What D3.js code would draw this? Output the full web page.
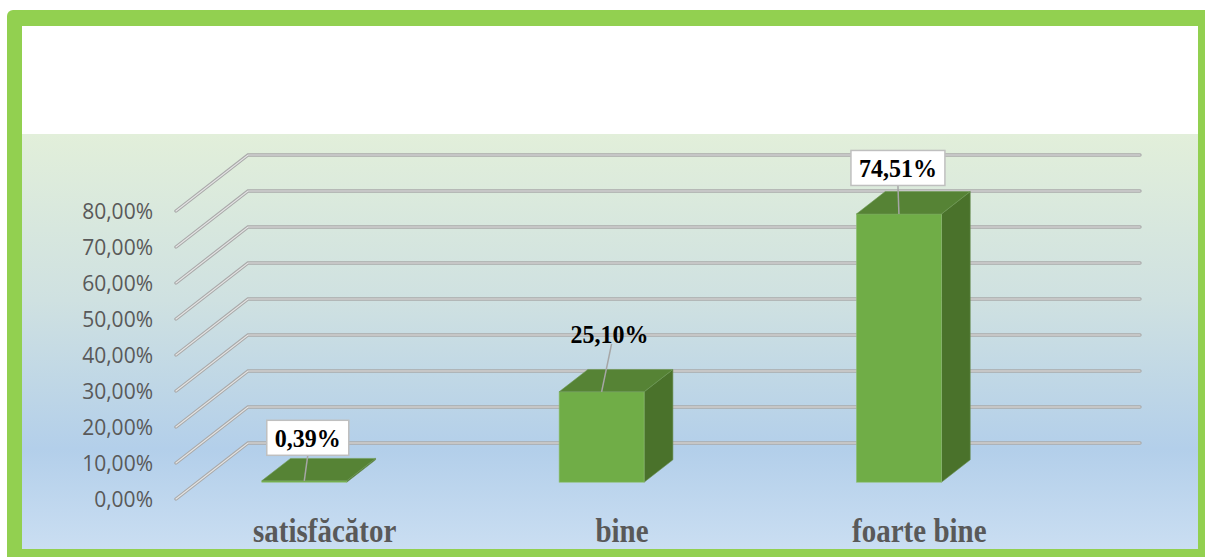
<!DOCTYPE html>
<html>
<head>
<meta charset="utf-8">
<script src="https://cdn.jsdelivr.net/npm/d3@7"></script>
<style>
  body { margin: 0; background: #ffffff; }
  svg { display: block; }
</style>
</head>
<body>
<script>
// chart data
var categories = ["satisfăcător", "bine", "foarte bine"];
var values = [0.39, 25.10, 74.51];
var valueLabels = ["0,39%", "25,10%", "74,51%"];
var yTicks = [0, 10, 20, 30, 40, 50, 60, 70, 80];
var yTickLabels = ["0,00%", "10,00%", "20,00%", "30,00%", "40,00%", "50,00%", "60,00%", "70,00%", "80,00%"];

// layout for the data labels (offset from bar top, boxed or not)
var labelOffsets = [[3.5, -43], [8, -58], [-1, -46]];
var labelBoxed = [true, false, true];

var w = 1205, h = 557;

// 3d floor: depth vector from front to back wall
var depthX = 72, depthY = -56;
var barDepth0 = 0.3, barDepth = 0.4;
var barWidth = 85, barShift = -42;

var svg = d3.select("body").append("svg")
  .attr("width", w)
  .attr("height", h);

var defs = svg.append("defs");
var grad = defs.append("linearGradient")
  .attr("id", "bg")
  .attr("x1", 0).attr("y1", 0).attr("x2", 0).attr("y2", 1);
grad.append("stop").attr("offset", "0").attr("stop-color", "#e2efda");
grad.append("stop").attr("offset", "0.4").attr("stop-color", "#cfe1e1");
grad.append("stop").attr("offset", "0.76").attr("stop-color", "#b3cfea");
grad.append("stop").attr("offset", "1").attr("stop-color", "#cadef2");

// frame
svg.append("rect")
  .attr("x", 7).attr("y", 10)
  .attr("width", 1220).attr("height", 570)
  .attr("rx", 6)
  .attr("fill", "#92d050");
svg.append("rect")
  .attr("x", 22).attr("y", 26)
  .attr("width", 1176).attr("height", 523)
  .attr("fill", "#ffffff");
svg.append("rect")
  .attr("x", 22).attr("y", 134)
  .attr("width", 1176).attr("height", 415)
  .attr("fill", "url(#bg)");

// scales (front edge of the floor)
var y = d3.scaleLinear().domain([0, 80]).range([499, 211]);
var x = d3.scaleBand().domain(categories).range([176, 1068]);

var backRight = 1140;

// gridlines: diagonal on the side wall, then along the back wall
var gridLine = function(d) {
  return "M" + x.range()[0] + "," + y(d) +
    "L" + (x.range()[0] + depthX) + "," + (y(d) + depthY) +
    "L" + backRight + "," + (y(d) + depthY);
};
var grid = svg.append("g");
grid.selectAll("path.outer")
  .data(yTicks)
  .enter().append("path")
  .attr("class", "outer")
  .attr("d", gridLine)
  .attr("fill", "none")
  .attr("stroke", "#a9a9a9")
  .attr("stroke-width", 3.4)
  .attr("stroke-linecap", "round");
grid.selectAll("path.inner")
  .data(yTicks)
  .enter().append("path")
  .attr("class", "inner")
  .attr("d", gridLine)
  .attr("fill", "none")
  .attr("stroke", "#e4e4e4")
  .attr("stroke-width", 1.2)
  .attr("stroke-linecap", "round");

// y tick labels
svg.append("g").selectAll("text")
  .data(yTicks)
  .enter().append("text")
  .text(function(d, i) { return yTickLabels[i]; })
  .attr("x", 153)
  .attr("y", function(d) { return y(d); })
  .attr("dy", "0.36em")
  .attr("text-anchor", "end")
  .attr("font-family", "'Open Sans', sans-serif")
  .attr("font-size", "21px")
  .attr("fill", "#595959");

// bars
function barGeom(d, i) {
  var xl = x(categories[i]) + x.bandwidth() / 2 + barShift - barWidth / 2 + barDepth0 * depthX;
  var yb = y(0) + barDepth0 * depthY;
  var yt = y(d) + barDepth0 * depthY;
  return { xl: xl, xr: xl + barWidth, yb: yb, yt: yt,
    dx: barDepth * depthX, dy: barDepth * depthY };
}

var bars = svg.append("g").selectAll("g")
  .data(values)
  .enter().append("g");

bars.append("path")
  .attr("d", function(d, i) {
    var g = barGeom(d, i);
    return "M" + g.xr + "," + g.yb + "L" + (g.xr + g.dx) + "," + (g.yb + g.dy) +
      "L" + (g.xr + g.dx) + "," + (g.yt + g.dy) + "L" + g.xr + "," + g.yt + "Z";
  })
  .attr("fill", "#4a722b")
  .attr("stroke", "#6a8f52")
  .attr("stroke-width", 0.6);

bars.append("rect")
  .attr("x", function(d, i) { return barGeom(d, i).xl; })
  .attr("y", function(d, i) { return barGeom(d, i).yt; })
  .attr("width", barWidth)
  .attr("height", function(d, i) { var g = barGeom(d, i); return g.yb - g.yt; })
  .attr("fill", "#70ad47")
  .attr("stroke", "#8fbf73")
  .attr("stroke-width", 0.6);

bars.append("path")
  .attr("d", function(d, i) {
    var g = barGeom(d, i);
    return "M" + g.xl + "," + g.yt + "L" + (g.xl + g.dx) + "," + (g.yt + g.dy) +
      "L" + (g.xr + g.dx) + "," + (g.yt + g.dy) + "L" + g.xr + "," + g.yt + "Z";
  })
  .attr("fill", "#568335")
  .attr("stroke", "#6e9a55")
  .attr("stroke-width", 0.6);

// data labels
var labels = svg.append("g").selectAll("g")
  .data(values)
  .enter().append("g");

labels.each(function(d, i) {
  var g = barGeom(d, i);
  var cx = (g.xl + g.xr) / 2;
  var lx = cx + labelOffsets[i][0];
  var ly = g.yt + labelOffsets[i][1];
  var sel = d3.select(this);

  var box = sel.append("rect");
  var txt = sel.append("text")
    .text(valueLabels[i])
    .attr("transform", "translate(" + lx + "," + ly + ") scale(1,1.07)")
    .attr("dy", "0.35em")
    .attr("text-anchor", "middle")
    .attr("font-family", "'Liberation Serif', 'Times New Roman', serif")
    .attr("font-weight", "bold")
    .attr("font-size", "24px")
    .attr("fill", "#000000");

  var tw = txt.node().getComputedTextLength();
  var bw = tw + 16, bh = 35;
  var bottom = ly + bh / 2;
  if (labelBoxed[i]) {
    box.attr("x", lx - bw / 2)
      .attr("y", ly - bh / 2)
      .attr("width", bw)
      .attr("height", bh)
      .attr("fill", "#ffffff")
      .attr("stroke", "#bfbfbf")
      .attr("stroke-width", 1.5);
  } else {
    box.remove();
    bottom = ly + 10;
  }

  sel.insert("line", ":first-child")
    .attr("x1", lx + (labelBoxed[i] ? 0 : 2))
    .attr("y1", bottom)
    .attr("x2", cx)
    .attr("y2", g.yt)
    .attr("stroke", "#a6a6a6")
    .attr("stroke-width", 1.5);
});

// category labels
svg.append("g").selectAll("text")
  .data(categories)
  .enter().append("text")
  .text(function(d) { return d; })
  .attr("transform", function(d) {
    return "translate(" + (x(d) + x.bandwidth() / 2) + ",542) scale(1,1.18)";
  })
  .attr("text-anchor", "middle")
  .attr("font-family", "'Liberation Serif', 'Times New Roman', serif")
  .attr("font-weight", "bold")
  .attr("font-size", "29px")
  .attr("fill", "#595959");
</script>
</body>
</html>
